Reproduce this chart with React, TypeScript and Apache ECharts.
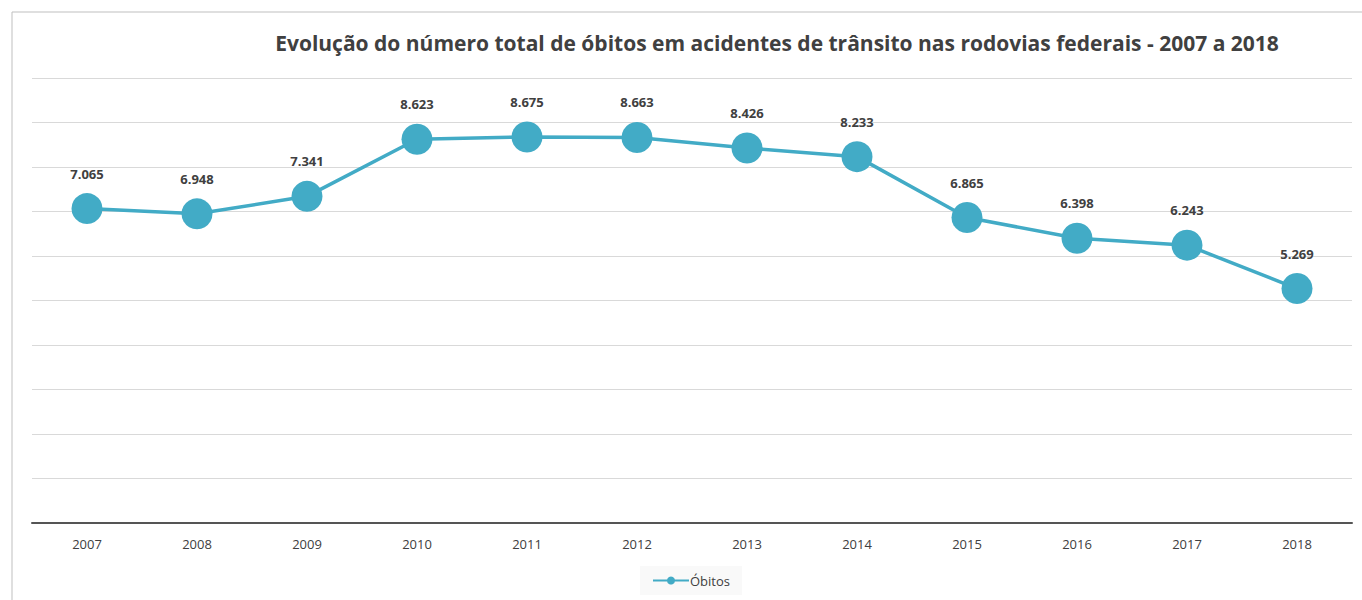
import React, { useEffect, useRef } from "react";
import * as echarts from "echarts";

const years = ["2007", "2008", "2009", "2010", "2011", "2012", "2013", "2014", "2015", "2016", "2017", "2018"];
const obitos = [7065, 6948, 7341, 8623, 8675, 8663, 8426, 8233, 6865, 6398, 6243, 5269];
const seriesName = "Óbitos";
const title = "Evolução do número total de óbitos em acidentes de trânsito nas rodovias federais - 2007 a 2018";

const fmt = (v: number) => String(v).replace(/\B(?=(\d{3})+(?!\d))/g, ".");

export default function App() {
  const ref = useRef<HTMLDivElement>(null);
  useEffect(() => {
    document.body.style.margin = "0";
    if (!ref.current) return;
    const chart = echarts.init(ref.current, null, { renderer: "svg" });
    const font = "'Open Sans', 'Liberation Sans', sans-serif";
    chart.setOption({
      animation: false,
      backgroundColor: "#ffffff",
      title: {
        text: title,
        left: 772,
        textAlign: "center",
        top: 27,
        textStyle: { fontFamily: font, fontSize: 21, fontWeight: "bold", color: "#404040" },
      },
      graphic: [
        {
          type: "rect",
          shape: { x: 12, y: 12, width: 1400, height: 700 },
          style: { fill: "none", stroke: "#bfbfbf", lineWidth: 1 },
          silent: true,
        },
      ],
      legend: {
        bottom: 5,
        left: 640,
        data: [seriesName],
        itemWidth: 36,
        itemHeight: 10,
        itemGap: 4,
        backgroundColor: "#f9f9f9",
        padding: [8, 12, 8, 12],
        textStyle: { fontFamily: font, fontSize: 13, color: "#404040", padding: [0, 0, 0, -4] },
      },
      grid: { left: 32, right: 10, top: 78, bottom: 77 },
      xAxis: {
        type: "category",
        data: years,
        boundaryGap: true,
        axisLine: { lineStyle: { color: "#555555", width: 2 } },
        axisTick: { show: false },
        axisLabel: { fontFamily: font, fontSize: 13, color: "#404040", margin: 14 },
      },
      yAxis: {
        type: "value",
        min: 0,
        max: 10000,
        interval: 1000,
        axisLabel: { show: false },
        axisLine: { show: false },
        axisTick: { show: false },
        splitLine: { lineStyle: { color: "#d9d9d9", width: 1 } },
      },
      series: [
        {
          name: seriesName,
          type: "line",
          data: obitos,
          symbol: "circle",
          symbolSize: 31,
          lineStyle: { color: "#42abc6", width: 3.5 },
          itemStyle: { color: "#42abc6" },
          label: {
            show: true,
            position: "top",
            distance: 13,
            formatter: (p: any) => fmt(p.value),
            fontFamily: font,
            fontSize: 13,
            fontWeight: "bold",
            color: "#404040",
          },
        },
      ],
    });
    return () => chart.dispose();
  }, []);
  return <div ref={ref} style={{ width: 1362, height: 600 }} />;
}
